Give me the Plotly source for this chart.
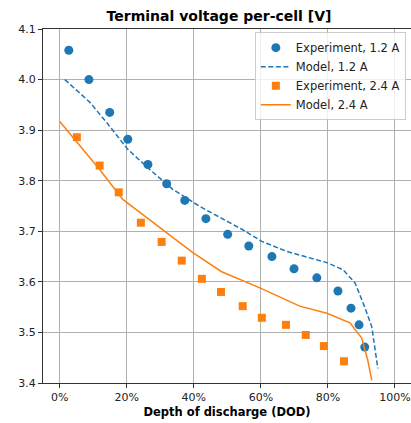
import plotly.graph_objects as go

# Experiment data, 1.2 A
exp12_x = [0.027, 0.087, 0.149, 0.203, 0.263, 0.319, 0.373, 0.436, 0.501, 0.564,
           0.633, 0.699, 0.767, 0.830, 0.869, 0.893, 0.910]
exp12_y = [4.058, 4.000, 3.935, 3.882, 3.832, 3.794, 3.761, 3.725, 3.694, 3.671,
           3.650, 3.626, 3.608, 3.582, 3.548, 3.515, 3.471]

# Model, 1.2 A
mod12_x = [0.015, 0.09, 0.14, 0.203, 0.269, 0.337, 0.418, 0.546, 0.603, 0.678,
           0.797, 0.845, 0.881, 0.910, 0.931, 0.949]
mod12_y = [4.000, 3.955, 3.915, 3.862, 3.822, 3.783, 3.749, 3.703, 3.680, 3.660,
           3.638, 3.624, 3.598, 3.550, 3.511, 3.429]

# Experiment data, 2.4 A
exp24_x = [0.051, 0.119, 0.176, 0.242, 0.304, 0.364, 0.424, 0.481, 0.546, 0.603,
           0.675, 0.734, 0.788, 0.848]
exp24_y = [3.886, 3.830, 3.777, 3.717, 3.679, 3.642, 3.606, 3.580, 3.552, 3.529,
           3.515, 3.495, 3.473, 3.443]

# Model, 2.4 A
mod24_x = [0.0, 0.06, 0.119, 0.188, 0.248, 0.319, 0.397, 0.483, 0.597, 0.716,
           0.797, 0.866, 0.901, 0.919, 0.931]
mod24_y = [3.917, 3.868, 3.822, 3.763, 3.733, 3.697, 3.658, 3.620, 3.588, 3.552,
           3.538, 3.519, 3.489, 3.445, 3.405]

x_ticks = [0, 0.2, 0.4, 0.6, 0.8, 1.0]
x_tick_labels = ["0%", "20%", "40%", "60%", "80%", "100%"]
y_ticks = [3.4, 3.5, 3.6, 3.7, 3.8, 3.9, 4.0, 4.1]
y_tick_labels = ["3.4", "3.5", "3.6", "3.7", "3.8", "3.9", "4.0", "4.1"]

BLUE = "#1f77b4"
ORANGE = "#ff7f0e"

fig = go.Figure()
fig.add_trace(go.Scatter(x=exp12_x, y=exp12_y, mode="markers", name="Experiment, 1.2 A",
                         marker=dict(color=BLUE, size=9, symbol="circle")))
fig.add_trace(go.Scatter(x=mod12_x, y=mod12_y, mode="lines", name="Model, 1.2 A",
                         line=dict(color=BLUE, width=1.5, dash="5px,2.5px")))
fig.add_trace(go.Scatter(x=exp24_x, y=exp24_y, mode="markers", name="Experiment, 2.4 A",
                         marker=dict(color=ORANGE, size=8, symbol="square")))
fig.add_trace(go.Scatter(x=mod24_x, y=mod24_y, mode="lines", name="Model, 2.4 A",
                         line=dict(color=ORANGE, width=1.5)))

fig.update_layout(
    width=411, height=423,
    margin=dict(l=43, r=0, t=29, b=40),
    paper_bgcolor="white", plot_bgcolor="white",
    font=dict(family="DejaVu Sans", size=11, color="#222"),
    title=dict(text="<b>Terminal voltage per-cell [V]</b>", x=219 / 411, xanchor="center",
               y=1 - 16 / 423, yanchor="middle", font=dict(size=14, color="black")),
    showlegend=True,
    legend=dict(x=0.986, y=0.991, xanchor="right", yanchor="top",
                bgcolor="rgba(255,255,255,0.8)", bordercolor="#cccccc", borderwidth=1,
                font=dict(size=11.5), tracegroupgap=0, itemwidth=30),
)
fig.update_xaxes(range=[-0.05, 1.048], tickvals=x_ticks, ticktext=x_tick_labels,
                 showgrid=True, gridcolor="#b0b0b0", gridwidth=1, zeroline=False,
                 showline=True, linecolor="#333", linewidth=1, mirror=True,
                 ticks="outside", ticklen=4, tickcolor="#333",
                 title=dict(text="<b>Depth of discharge (DOD)</b>", font=dict(size=11.5, color="black"),
                            standoff=4))
fig.update_yaxes(range=[3.4, 4.1], tickvals=y_ticks, ticktext=y_tick_labels,
                 showgrid=True, gridcolor="#b0b0b0", gridwidth=1, zeroline=False,
                 showline=True, linecolor="#333", linewidth=1,
                 ticks="outside", ticklen=4, tickcolor="#333")

fig.write_html("out.html")
